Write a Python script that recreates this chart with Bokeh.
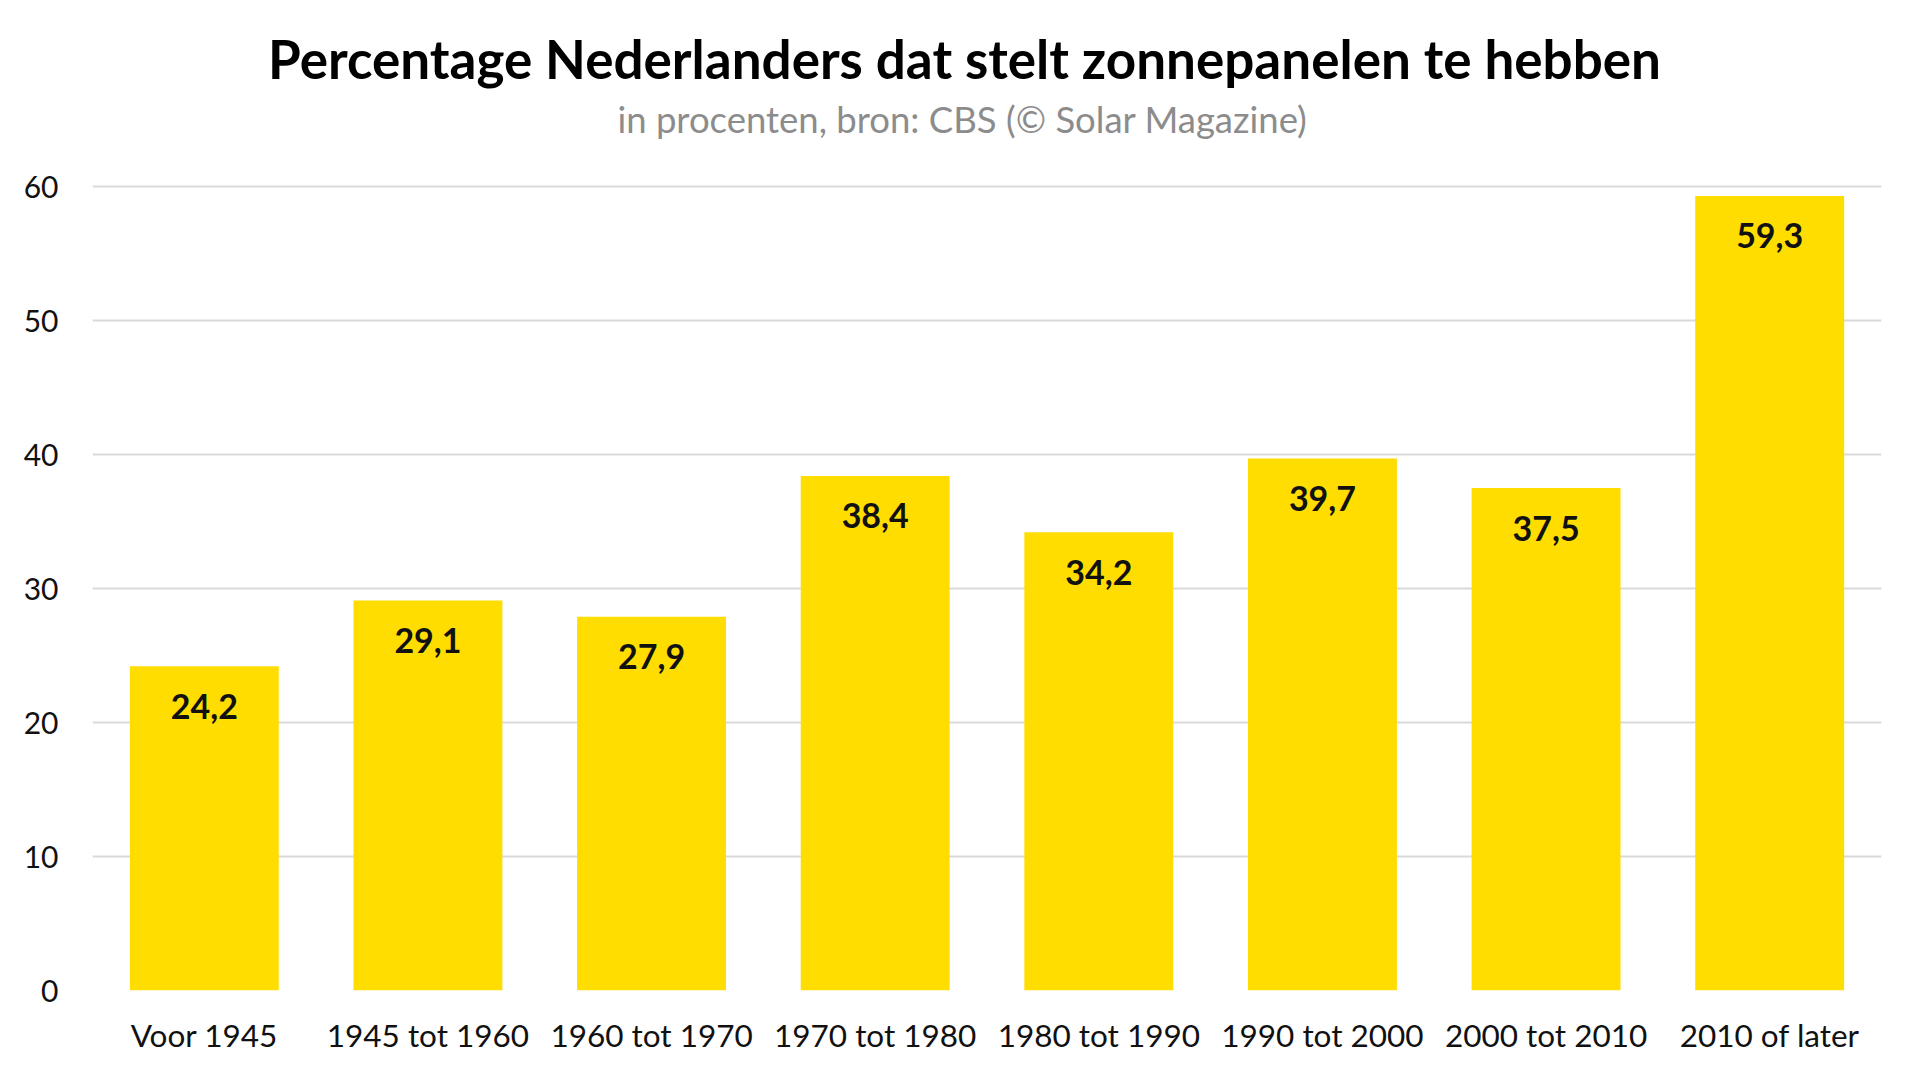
from bokeh.plotting import figure
from bokeh.models import ColumnDataSource, Label, FixedTicker, Range1d
from bokeh.embed import file_html
from bokeh.resources import INLINE
from bokeh.core.properties import value

categories = ["Voor 1945", "1945 tot 1960", "1960 tot 1970", "1970 tot 1980",
              "1980 tot 1990", "1990 tot 2000", "2000 tot 2010", "2010 of later"]
values = [24.2, 29.1, 27.9, 38.4, 34.2, 39.7, 37.5, 59.3]
y_ticks = [0, 10, 20, 30, 40, 50, 60]
title_text = "Percentage Nederlanders dat stelt zonnepanelen te hebben"
subtitle_text = "in procenten, bron: CBS (© Solar Magazine)"

labels = [f"{v:.1f}".replace(".", ",") for v in values]
src = ColumnDataSource(dict(cat=categories, val=values, lab=labels))

FONT = "Lato"
W, H = 1920, 1080
BOTTOM = 90          # px below the zero line
TOP60 = 186          # canvas y of the 60 gridline
px_per_unit = (H - BOTTOM - TOP60) / 60.0
y_top = 60 + TOP60 / px_per_unit   # frame runs to the top of the canvas

p = figure(x_range=categories, y_range=Range1d(0, y_top), width=W, height=H,
           output_backend="svg", toolbar_location=None, title=None,
           min_border_left=92, min_border_right=39, min_border_top=0,
           min_border_bottom=BOTTOM)
p.outline_line_color = None
p.background_fill_color = "white"
p.border_fill_color = "white"

p.vbar(x="cat", top="val", width=0.666, source=src, color="#FFDD00", line_color=None)
p.text(x="cat", y="val", text="lab", source=src, text_align="center",
       text_baseline="middle", y_offset=40, text_font=value(FONT),
       text_font_style="bold", text_font_size="34px", text_color="#111111")

ttl = Label(x=964, y=58, x_units="canvas", y_units="canvas", text=title_text,
            text_align="center", text_baseline="alphabetic", text_font=FONT,
            text_font_style="bold", text_font_size="53px", text_color="#000000")
sub = Label(x=962, y=118, x_units="canvas", y_units="canvas", text=subtitle_text,
            text_align="center", text_baseline="alphabetic", text_font=FONT,
            text_font_style="normal", text_font_size="36.5px", text_color="#8c8c8c")
p.add_layout(ttl)
p.add_layout(sub)

p.xgrid.grid_line_color = None
p.ygrid.grid_line_color = "#d9d9d9"
p.ygrid.grid_line_width = 2
p.yaxis.ticker = FixedTicker(ticks=y_ticks)

for ax in (p.xaxis, p.yaxis):
    ax.axis_line_color = None
    ax.major_tick_line_color = None
    ax.minor_tick_line_color = None
    ax.major_tick_in = 0
    ax.major_tick_out = 0
    ax.major_label_text_font = FONT
    ax.major_label_text_color = "#111111"

p.yaxis.major_label_text_font_size = "30px"
p.yaxis.major_label_standoff = 34
p.xaxis.major_label_text_font_size = "31.5px"
p.xaxis.major_label_standoff = 25

open("out.html", "w").write(file_html(p, INLINE))
